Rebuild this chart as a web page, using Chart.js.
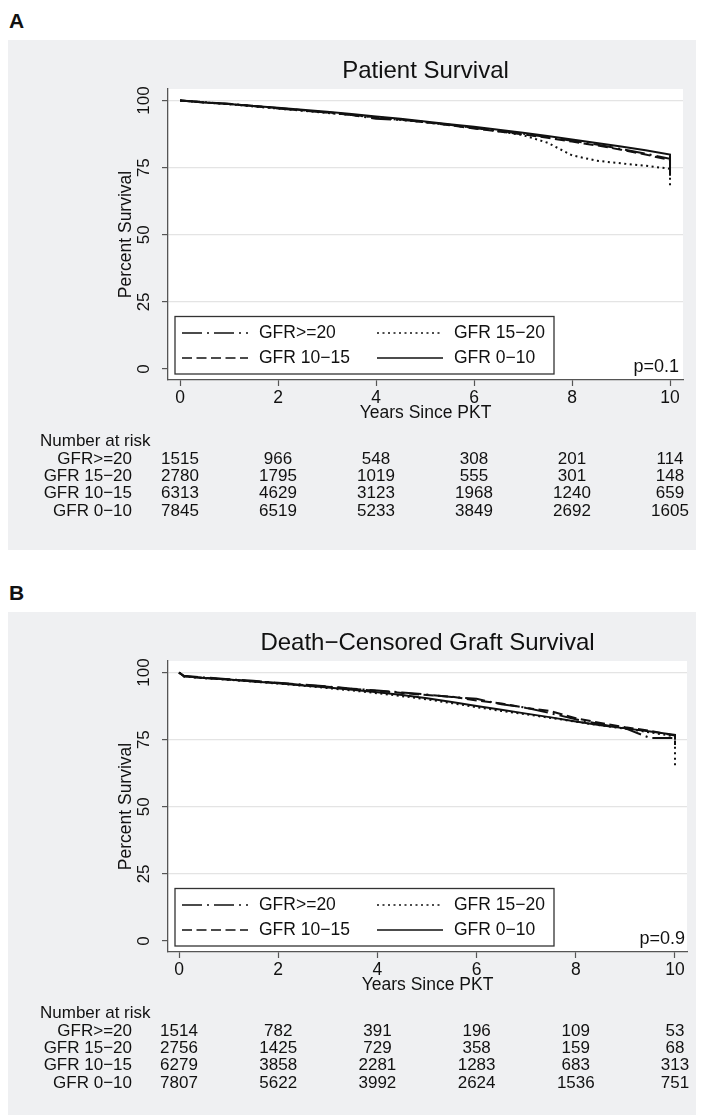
<!DOCTYPE html>
<html>
<head>
<meta charset="utf-8">
<title>Survival by GFR group</title>
<script src="https://cdn.jsdelivr.net/npm/chart.js@4.4.1/dist/chart.umd.min.js"></script>
<style>
  html, body { margin: 0; padding: 0; background: #fff; }
  body { width: 704px; height: 1115px; position: relative; overflow: hidden; font-family: "Liberation Sans", Arial, sans-serif; }
  .panel-letter { position: absolute; left: 9px; font-weight: bold; font-size: 21px; color: #111; line-height: 1; }
  .panel { position: absolute; left: 8px; width: 688px; background: #eff0f2; }
  .panel canvas { display: block; }
</style>
</head>
<body>
<div class="panel-letter" style="top:10px;">A</div>
<div class="panel" style="top:40px;height:510px;"><canvas id="chart-a" width="688" height="510"></canvas></div>
<div class="panel-letter" style="top:582px;">B</div>
<div class="panel" style="top:612px;height:503px;"><canvas id="chart-b" width="688" height="503"></canvas></div>

<script>
/* Patient and death-censored graft survival by GFR group */
(function () {
  "use strict";

  // ---- data ----
  const groups = ["GFR>=20", "GFR 15\u221220", "GFR 10\u221215", "GFR 0\u221210"];
  const xTicks = [0, 2, 4, 6, 8, 10];
  const yTicks = [0, 25, 50, 75, 100];
  const riskYears = [0, 2, 4, 6, 8, 10];

  // Panel A: Patient Survival
  const yearsA = [0, 0.5, 1, 1.5, 2, 2.5, 3, 3.5, 4, 4.5, 5, 5.5, 6, 6.5, 7, 7.5, 8, 8.5, 9, 9.5, 10, 10];
  const survA_ge20 = [100, 99.4, 98.8, 98.0, 97.0, 96.3, 95.5, 94.6, 93.2, 92.8, 92.0, 91.0, 89.8, 88.7, 87.6, 86.4, 85.0, 83.6, 82.0, 80.2, 78.3, 76.0];
  const survA_15_20 = [100, 99.3, 98.6, 97.8, 97.0, 96.2, 95.4, 94.6, 93.7, 92.8, 91.9, 90.9, 89.8, 88.6, 87.1, 84.3, 79.6, 77.6, 76.6, 75.7, 74.6, 68.4];
  const survA_10_15 = [100, 99.3, 98.7, 98.0, 97.2, 96.4, 95.6, 94.7, 93.8, 92.9, 91.9, 90.8, 89.6, 88.5, 87.4, 86.1, 84.7, 83.3, 81.7, 79.9, 77.8, 77.8];
  const survA_0_10 = [100, 99.3, 98.7, 98.0, 97.3, 96.6, 95.8, 95.0, 94.1, 93.2, 92.2, 91.2, 90.2, 89.1, 88.0, 86.8, 85.5, 84.2, 82.9, 81.5, 79.9, 72.0];
  const riskA_ge20 = [1515, 966, 548, 308, 201, 114];
  const riskA_15_20 = [2780, 1795, 1019, 555, 301, 148];
  const riskA_10_15 = [6313, 4629, 3123, 1968, 1240, 659];
  const riskA_0_10 = [7845, 6519, 5233, 3849, 2692, 1605];

  // Panel B: Death-Censored Graft Survival
  const yearsB = [0, 0.1, 0.5, 1, 1.5, 2, 2.5, 3, 3.5, 4, 4.5, 5, 5.5, 6, 6.5, 7, 7.5, 8, 8.5, 9, 9.5, 10, 10];
  const survB_ge20 = [100, 98.8, 98.2, 97.5, 96.9, 96.2, 95.5, 94.8, 94.0, 93.3, 92.6, 91.8, 90.9, 90.2, 88.2, 86.9, 84.8, 82.6, 80.7, 79.2, 75.6, 75.6, 72.0];
  const survB_15_20 = [100, 98.5, 97.9, 97.3, 96.6, 95.9, 95.1, 94.2, 93.3, 92.3, 91.2, 90.0, 88.6, 87.1, 85.7, 84.4, 83.1, 81.7, 80.3, 79.1, 77.7, 76.2, 64.5];
  const survB_10_15 = [100, 98.6, 98.0, 97.4, 96.8, 96.1, 95.4, 94.7, 93.9, 93.2, 92.4, 91.6, 91.0, 89.6, 88.5, 86.8, 85.6, 83.0, 81.2, 79.6, 78.3, 76.5, 73.0];
  const survB_0_10 = [100, 98.6, 98.0, 97.4, 96.7, 96.0, 95.2, 94.4, 93.6, 92.7, 91.6, 90.4, 89.0, 87.5, 86.1, 84.7, 83.3, 81.8, 80.4, 79.2, 78.0, 76.8, 75.0];
  const riskB_ge20 = [1514, 782, 391, 196, 109, 53];
  const riskB_15_20 = [2756, 1425, 729, 358, 159, 68];
  const riskB_10_15 = [6279, 3858, 2281, 1283, 683, 313];
  const riskB_0_10 = [7807, 5622, 3992, 2624, 1536, 751];

  // ---- styling ----
  const FONT = "'Liberation Sans', Arial, sans-serif";
  const INK = "#111";
  const AXIS = "#555";
  const GRID = "#e4e4e4";
  const dashes = [[20, 5, 2, 5], [2, 3.5], [10, 4.5], []];

  Chart.defaults.font.family = FONT;
  Chart.defaults.color = INK;

  // white plot region, then title / legend / p-value / risk table
  const stataDecor = {
    id: "stataDecor",
    beforeDraw(chart) {
      const { ctx, chartArea: ca } = chart;
      ctx.save();
      ctx.fillStyle = "#fff";
      ctx.fillRect(ca.left, ca.top, ca.right - ca.left, ca.bottom - ca.top);
      ctx.restore();
    },
    afterDraw(chart, args, opts) {
      const { ctx, chartArea: ca } = chart;
      const xs = chart.scales.x;
      ctx.save();

      // title
      ctx.fillStyle = INK;
      ctx.font = `24px ${FONT}`;
      ctx.textAlign = "center";
      ctx.textBaseline = "middle";
      ctx.fillText(opts.title, (ca.left + ca.right) / 2, 31);

      // legend box
      const lx = ca.left + 7, by = ca.bottom - 6, ty = by - 57.5, rx = lx + 379;
      ctx.fillStyle = "#fff";
      ctx.fillRect(lx, ty, rx - lx, by - ty);
      ctx.strokeStyle = "#333";
      ctx.lineWidth = 1.3;
      ctx.strokeRect(lx, ty, rx - lx, by - ty);
      ctx.font = `17.5px ${FONT}`;
      ctx.textAlign = "left";
      groups.forEach((g, i) => {
        const col = i % 2, row = Math.floor(i / 2);
        const x0 = lx + (col ? 202 : 7);
        const y = ty + (row ? 41.5 : 16.5);
        ctx.beginPath();
        ctx.setLineDash(dashes[i]);
        ctx.strokeStyle = INK;
        ctx.lineWidth = 1.6;
        ctx.moveTo(x0, y);
        ctx.lineTo(x0 + 66, y);
        ctx.stroke();
        ctx.setLineDash([]);
        ctx.fillStyle = INK;
        ctx.fillText(g, x0 + 77, y + 0.5);
      });

      // p-value
      ctx.font = `18px ${FONT}`;
      ctx.textAlign = "right";
      ctx.fillText(opts.pValue, ca.right - opts.pInset, ca.bottom - 13);

      // number at risk
      ctx.font = `17px ${FONT}`;
      ctx.textAlign = "left";
      ctx.fillText("Number at risk", 32, 401);
      opts.risk.forEach((row, r) => {
        const y = 419 + r * 17.3;
        ctx.textAlign = "right";
        ctx.fillText(groups[r], 124, y);
        ctx.textAlign = "center";
        row.forEach((n, k) => ctx.fillText(String(n), xs.getPixelForValue(riskYears[k]), y));
      });
      ctx.restore();
    },
  };

  function makePanel(id, p) {
    const series = [p.ge20, p.s15_20, p.s10_15, p.s0_10];
    const datasets = series.map((vals, i) => ({
      label: groups[i],
      data: vals.map((v, k) => ({ x: p.years[k], y: v })),
      borderColor: INK,
      borderWidth: 2,
      borderDash: dashes[i],
      pointRadius: 0,
      tension: 0,
      fill: false,
    }));

    return new Chart(document.getElementById(id).getContext("2d"), {
      type: "line",
      data: { datasets },
      options: {
        responsive: false, animation: false, devicePixelRatio: 1,
        layout: { padding: { top: 49, left: 0, right: p.padRight, bottom: p.padBottom } },
        plugins: {
          legend: { display: false }, tooltip: { enabled: false },
          stataDecor: { title: p.title, pValue: p.pValue, pInset: p.pInset, risk: p.risk },
        },
        scales: {
          x: {
            type: "linear", min: p.xMin, max: p.xMax,
            afterBuildTicks: (s) => { s.ticks = xTicks.map((v) => ({ value: v })); },
            afterFit: (s) => { s.height = 44; },
            grid: { drawOnChartArea: false, tickLength: 6, tickColor: AXIS, tickWidth: 1.2 },
            border: { color: AXIS, width: 1.3 },
            ticks: { font: { size: 17.5 }, color: INK, padding: 2, maxRotation: 0, autoSkip: false },
            title: { display: true, text: "Years Since PKT", font: { size: 17.5 }, color: INK, padding: { top: 0, bottom: 0 } },
          },
          y: {
            type: "linear", min: -4.1, max: 104.3,
            afterBuildTicks: (s) => { s.ticks = yTicks.map((v) => ({ value: v })); },
            afterFit: (s) => { s.width = 160; },
            grid: {
              color: (c) => (c.tick && c.tick.value === 0 ? "rgba(0,0,0,0)" : GRID),
              lineWidth: 1.2, tickLength: 6, tickColor: AXIS, tickWidth: 1.2,
            },
            border: { color: AXIS, width: 1.3 },
            ticks: { font: { size: 17 }, color: INK, padding: 4, minRotation: 90, maxRotation: 90, crossAlign: "center", autoSkip: false },
            title: { display: true, text: "Percent Survival", font: { size: 17.5 }, color: INK, padding: { top: 108, bottom: 0 } },
          },
        },
      },
      plugins: [stataDecor],
    });
  }

  makePanel("chart-a", {
    title: "Patient Survival", pValue: "p=0.1", pInset: 4,
    years: yearsA, ge20: survA_ge20, s15_20: survA_15_20, s10_15: survA_10_15, s0_10: survA_0_10,
    risk: [riskA_ge20, riskA_15_20, riskA_10_15, riskA_0_10],
    xMin: -0.245, xMax: 10.265, padRight: 13, padBottom: 126,
  });

  makePanel("chart-b", {
    title: "Death\u2212Censored Graft Survival", pValue: "p=0.9", pInset: 2,
    years: yearsB, ge20: survB_ge20, s15_20: survB_15_20, s10_15: survB_10_15, s0_10: survB_0_10,
    risk: [riskB_ge20, riskB_15_20, riskB_10_15, riskB_0_10],
    xMin: -0.222, xMax: 10.242, padRight: 9, padBottom: 119,
  });
})();
</script>
</body>
</html>
